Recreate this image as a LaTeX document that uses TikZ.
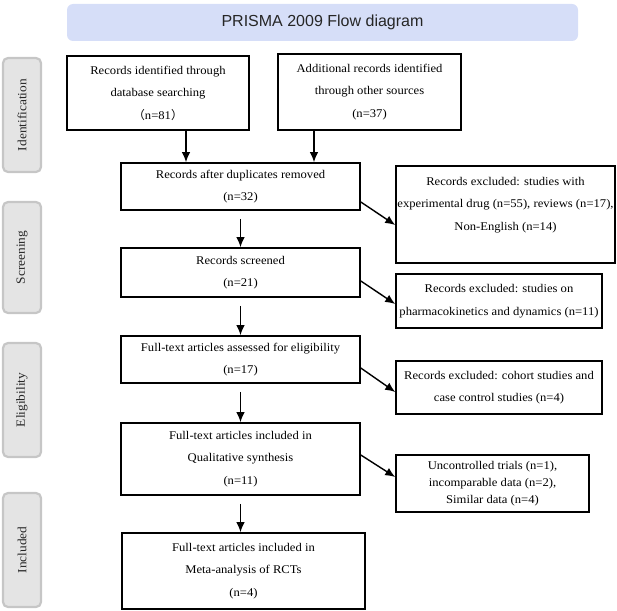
\documentclass[tikz,border=0pt]{standalone}
\usepackage{fontspec}
\setmainfont{Liberation Serif}[FakeStretch=1.07]
\newfontfamily\titlefont{Liberation Sans}
\newfontfamily\cjkfont{Noto Sans CJK KR}
\usetikzlibrary{arrows.meta}
\definecolor{titlefill}{HTML}{D6DEF8}
\definecolor{sidefill}{HTML}{E4E4E4}
\definecolor{sidedraw}{HTML}{C6C6C6}
\tikzset{
  flowbox/.style={draw=black, line width=1.6pt, fill=white, inner sep=2pt, align=center,
    font=\fontsize{11.8}{22.5}\selectfont},
  sidebox/.style={draw=sidedraw, fill=sidefill, line width=2.2pt, rounded corners=5pt,
    minimum width=38pt, inner sep=0pt},
  sidetext/.style={rotate=90, font=\fontsize{12.5}{14}\selectfont, text=black!85},
  arr/.style={-{Latex[length=10pt,width=8.5pt]}, line width=1.4pt, black},
}
\begin{document}
\begin{tikzpicture}[x=1pt, y=-1pt]
\useasboundingbox (0,0) rectangle (617,610);

% title
\node[fill=titlefill, rounded corners=6pt, minimum width=511pt, minimum height=37pt,
  inner sep=0pt, font=\titlefont\fontsize{16}{18}\selectfont, text=black!85]
  (title) at (322.5,22.5) {PRISMA 2009 Flow diagram};

% side stage labels
\node[sidebox, minimum height=114pt] (sIdent) at (22,115) {};
\node[sidetext] (tIdent) at (sIdent.center) {Identification};
\node[sidebox, minimum height=111pt] (sScreen) at (22,257.5) {};
\node[sidetext] (tScreen) at (sScreen.center) {Screening};
\node[sidebox, minimum height=114pt] (sElig) at (22,400) {};
\node[sidetext] (tElig) at (sElig.center) {Eligibility};
\node[sidebox, minimum height=114pt] (sIncl) at (22,550) {};
\node[sidetext] (tIncl) at (sIncl.center) {Included};

% main boxes
\node[flowbox, minimum width=182pt, minimum height=74pt] (b1) at (158,93)
  {Records identified through\\database searching\\{\cjkfont （}n=81{\cjkfont ）}};
\node[flowbox, minimum width=183pt, minimum height=76pt] (b2) at (369.5,92)
  {Additional records identified\\through other sources\\(n=37)};
\node[flowbox, minimum width=239pt, minimum height=47pt] (b3) at (240.5,186.5)
  {Records after duplicates removed\\(n=32)};
\node[flowbox, minimum width=239pt, minimum height=49pt] (b4) at (240.5,272.5)
  {Records screened\\(n=21)};
\node[flowbox, minimum width=239pt, minimum height=47pt] (b5) at (240.5,359.5)
  {Full-text articles assessed for eligibility\\(n=17)};
\node[flowbox, minimum width=239pt, minimum height=72pt] (b6) at (240.5,459)
  {Full-text articles included in\\Qualitative synthesis\\(n=11)};
\node[flowbox, minimum width=243pt, minimum height=76pt] (b7) at (243.5,571)
  {Full-text articles included in\\Meta-analysis of RCTs\\(n=4)};

% exclusion boxes
\node[flowbox, minimum width=219pt, minimum height=97pt] (ex1) at (505.5,214.5) {};
\node[align=center, inner sep=0pt, font=\fontsize{11.8}{22.5}\selectfont] (tex1) at (505.5,205)
  {Records excluded: studies with\\experimental drug (n=55), reviews (n=17),\\Non-English (n=14)};
\node[flowbox, minimum width=206pt, minimum height=54pt] (ex2) at (499,301)
  {Records excluded: studies on\\pharmacokinetics and dynamics (n=11)};
\node[flowbox, minimum width=206pt, minimum height=53pt] (ex3) at (499,387.5)
  {Records excluded: cohort studies and\\case control studies (n=4)};
\node[flowbox, minimum width=193pt, minimum height=57pt,
  font=\fontsize{11.8}{17}\selectfont] (ex4) at (492.5,483.5)
  {Uncontrolled trials (n=1),\\incomparable data (n=2),\\Similar data (n=4)};

% connectors
\draw[arr] (b1.south -| 186,0) -- (b3.north -| 186,0);
\draw[arr] (b2.south -| 314,0) -- (b3.north -| 314,0);
\draw[arr, shorten <=8pt] (b3.south) -- (b4.north);
\draw[arr, shorten <=8pt] (b4.south) -- (b5.north);
\draw[arr, shorten <=8pt] (b5.south) -- (b6.north);
\draw[arr, shorten <=8pt] (b6.south -| b4.south) -- (b7.north -| b4.south);
\draw[arr] (b3.east |- 0,202) -- (ex1.west |- 0,225);
\draw[arr] (b4.east |- 0,281) -- (ex2.west |- 0,304);
\draw[arr] (b5.east |- 0,368) -- (ex3.west |- 0,392);
\draw[arr] (b6.east |- 0,455) -- (ex4.west |- 0,477);
\end{tikzpicture}
\end{document}
